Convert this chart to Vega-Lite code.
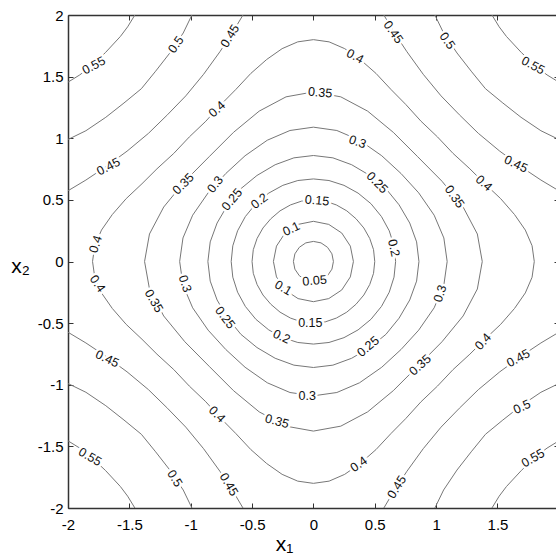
{
"$schema":"https://vega.github.io/schema/vega-lite/v6.json",
"width":488,"height":493,
"autosize":{"type":"none"},
"padding":{"left":68,"top":15,"right":0,"bottom":51},
"background":"white",
"config":{"view":{"stroke":null},"font":"Liberation Sans"},
"datasets":{
"lines":[
{"c":"L05","i":0,"x":0.163,"y":0},{"c":"L05","i":1,"x":0.151,"y":0.062},{"c":"L05","i":2,"x":0.115,"y":0.115},{"c":"L05","i":3,"x":0.062,"y":0.151},{"c":"L05","i":4,"x":0,"y":0.163},{"c":"L05","i":5,"x":-0.062,"y":0.151},{"c":"L05","i":6,"x":-0.115,"y":0.115},{"c":"L05","i":7,"x":-0.151,"y":0.062},{"c":"L05","i":8,"x":-0.163,"y":0},{"c":"L05","i":9,"x":-0.151,"y":-0.062},{"c":"L05","i":10,"x":-0.115,"y":-0.115},{"c":"L05","i":11,"x":-0.062,"y":-0.151},{"c":"L05","i":12,"x":0,"y":-0.163},{"c":"L05","i":13,"x":0.062,"y":-0.151},{"c":"L05","i":14,"x":0.115,"y":-0.115},{"c":"L05","i":15,"x":0.151,"y":-0.062},{"c":"L05","i":16,"x":0.163,"y":0},
{"c":"L10","i":0,"x":0.326,"y":0},{"c":"L10","i":1,"x":0.301,"y":0.125},{"c":"L10","i":2,"x":0.231,"y":0.231},{"c":"L10","i":3,"x":0.125,"y":0.301},{"c":"L10","i":4,"x":0,"y":0.326},{"c":"L10","i":5,"x":-0.125,"y":0.301},{"c":"L10","i":6,"x":-0.231,"y":0.231},{"c":"L10","i":7,"x":-0.301,"y":0.125},{"c":"L10","i":8,"x":-0.326,"y":0},{"c":"L10","i":9,"x":-0.301,"y":-0.125},{"c":"L10","i":10,"x":-0.231,"y":-0.231},{"c":"L10","i":11,"x":-0.125,"y":-0.301},{"c":"L10","i":12,"x":0,"y":-0.326},{"c":"L10","i":13,"x":0.125,"y":-0.301},{"c":"L10","i":14,"x":0.231,"y":-0.231},{"c":"L10","i":15,"x":0.301,"y":-0.125},{"c":"L10","i":16,"x":0.326,"y":0},
{"c":"L15","i":0,"x":0.5,"y":0},{"c":"L15","i":1,"x":0.49,"y":0.096},{"c":"L15","i":2,"x":0.459,"y":0.187},{"c":"L15","i":3,"x":0.411,"y":0.272},{"c":"L15","i":4,"x":0.347,"y":0.347},{"c":"L15","i":5,"x":0.272,"y":0.411},{"c":"L15","i":6,"x":0.187,"y":0.459},{"c":"L15","i":7,"x":0.096,"y":0.49},{"c":"L15","i":8,"x":0,"y":0.5},{"c":"L15","i":9,"x":-0.096,"y":0.49},{"c":"L15","i":10,"x":-0.187,"y":0.459},{"c":"L15","i":11,"x":-0.272,"y":0.411},{"c":"L15","i":12,"x":-0.347,"y":0.347},{"c":"L15","i":13,"x":-0.411,"y":0.272},{"c":"L15","i":14,"x":-0.459,"y":0.187},{"c":"L15","i":15,"x":-0.49,"y":0.096},{"c":"L15","i":16,"x":-0.5,"y":0},{"c":"L15","i":17,"x":-0.49,"y":-0.096},{"c":"L15","i":18,"x":-0.459,"y":-0.187},{"c":"L15","i":19,"x":-0.411,"y":-0.272},{"c":"L15","i":20,"x":-0.347,"y":-0.347},{"c":"L15","i":21,"x":-0.272,"y":-0.411},{"c":"L15","i":22,"x":-0.187,"y":-0.459},{"c":"L15","i":23,"x":-0.096,"y":-0.49},{"c":"L15","i":24,"x":0,"y":-0.5},{"c":"L15","i":25,"x":0.096,"y":-0.49},{"c":"L15","i":26,"x":0.187,"y":-0.459},{"c":"L15","i":27,"x":0.272,"y":-0.411},{"c":"L15","i":28,"x":0.347,"y":-0.347},{"c":"L15","i":29,"x":0.411,"y":-0.272},{"c":"L15","i":30,"x":0.459,"y":-0.187},{"c":"L15","i":31,"x":0.49,"y":-0.096},{"c":"L15","i":32,"x":0.5,"y":0},
{"c":"L20","i":0,"x":0.67,"y":0},{"c":"L20","i":1,"x":0.657,"y":0.127},{"c":"L20","i":2,"x":0.618,"y":0.249},{"c":"L20","i":3,"x":0.555,"y":0.364},{"c":"L20","i":4,"x":0.469,"y":0.469},{"c":"L20","i":5,"x":0.364,"y":0.555},{"c":"L20","i":6,"x":0.249,"y":0.618},{"c":"L20","i":7,"x":0.127,"y":0.657},{"c":"L20","i":8,"x":0,"y":0.67},{"c":"L20","i":9,"x":-0.127,"y":0.657},{"c":"L20","i":10,"x":-0.249,"y":0.618},{"c":"L20","i":11,"x":-0.364,"y":0.555},{"c":"L20","i":12,"x":-0.469,"y":0.469},{"c":"L20","i":13,"x":-0.555,"y":0.364},{"c":"L20","i":14,"x":-0.618,"y":0.249},{"c":"L20","i":15,"x":-0.657,"y":0.127},{"c":"L20","i":16,"x":-0.67,"y":0},{"c":"L20","i":17,"x":-0.657,"y":-0.127},{"c":"L20","i":18,"x":-0.618,"y":-0.249},{"c":"L20","i":19,"x":-0.555,"y":-0.364},{"c":"L20","i":20,"x":-0.469,"y":-0.469},{"c":"L20","i":21,"x":-0.364,"y":-0.555},{"c":"L20","i":22,"x":-0.249,"y":-0.618},{"c":"L20","i":23,"x":-0.127,"y":-0.657},{"c":"L20","i":24,"x":0,"y":-0.67},{"c":"L20","i":25,"x":0.127,"y":-0.657},{"c":"L20","i":26,"x":0.249,"y":-0.618},{"c":"L20","i":27,"x":0.364,"y":-0.555},{"c":"L20","i":28,"x":0.469,"y":-0.469},{"c":"L20","i":29,"x":0.555,"y":-0.364},{"c":"L20","i":30,"x":0.618,"y":-0.249},{"c":"L20","i":31,"x":0.657,"y":-0.127},{"c":"L20","i":32,"x":0.67,"y":0},
{"c":"L25","i":0,"x":0.86,"y":0},{"c":"L25","i":1,"x":0.841,"y":0.159},{"c":"L25","i":2,"x":0.785,"y":0.312},{"c":"L25","i":3,"x":0.698,"y":0.46},{"c":"L25","i":4,"x":0.591,"y":0.591},{"c":"L25","i":5,"x":0.46,"y":0.698},{"c":"L25","i":6,"x":0.312,"y":0.785},{"c":"L25","i":7,"x":0.159,"y":0.841},{"c":"L25","i":8,"x":0,"y":0.86},{"c":"L25","i":9,"x":-0.159,"y":0.841},{"c":"L25","i":10,"x":-0.312,"y":0.785},{"c":"L25","i":11,"x":-0.46,"y":0.698},{"c":"L25","i":12,"x":-0.591,"y":0.591},{"c":"L25","i":13,"x":-0.698,"y":0.46},{"c":"L25","i":14,"x":-0.785,"y":0.312},{"c":"L25","i":15,"x":-0.841,"y":0.159},{"c":"L25","i":16,"x":-0.86,"y":0},{"c":"L25","i":17,"x":-0.841,"y":-0.159},{"c":"L25","i":18,"x":-0.785,"y":-0.312},{"c":"L25","i":19,"x":-0.698,"y":-0.46},{"c":"L25","i":20,"x":-0.591,"y":-0.591},{"c":"L25","i":21,"x":-0.46,"y":-0.698},{"c":"L25","i":22,"x":-0.312,"y":-0.785},{"c":"L25","i":23,"x":-0.159,"y":-0.841},{"c":"L25","i":24,"x":0,"y":-0.86},{"c":"L25","i":25,"x":0.159,"y":-0.841},{"c":"L25","i":26,"x":0.312,"y":-0.785},{"c":"L25","i":27,"x":0.46,"y":-0.698},{"c":"L25","i":28,"x":0.591,"y":-0.591},{"c":"L25","i":29,"x":0.698,"y":-0.46},{"c":"L25","i":30,"x":0.785,"y":-0.312},{"c":"L25","i":31,"x":0.841,"y":-0.159},{"c":"L25","i":32,"x":0.86,"y":0},
{"c":"L30","i":0,"x":1.09,"y":0},{"c":"L30","i":1,"x":1.063,"y":0.191},{"c":"L30","i":2,"x":0.984,"y":0.376},{"c":"L30","i":3,"x":0.858,"y":0.557},{"c":"L30","i":4,"x":0.714,"y":0.714},{"c":"L30","i":5,"x":0.557,"y":0.858},{"c":"L30","i":6,"x":0.376,"y":0.984},{"c":"L30","i":7,"x":0.191,"y":1.063},{"c":"L30","i":8,"x":0,"y":1.09},{"c":"L30","i":9,"x":-0.191,"y":1.063},{"c":"L30","i":10,"x":-0.376,"y":0.984},{"c":"L30","i":11,"x":-0.557,"y":0.858},{"c":"L30","i":12,"x":-0.714,"y":0.714},{"c":"L30","i":13,"x":-0.858,"y":0.557},{"c":"L30","i":14,"x":-0.984,"y":0.376},{"c":"L30","i":15,"x":-1.063,"y":0.191},{"c":"L30","i":16,"x":-1.09,"y":0},{"c":"L30","i":17,"x":-1.063,"y":-0.191},{"c":"L30","i":18,"x":-0.984,"y":-0.376},{"c":"L30","i":19,"x":-0.858,"y":-0.557},{"c":"L30","i":20,"x":-0.714,"y":-0.714},{"c":"L30","i":21,"x":-0.557,"y":-0.858},{"c":"L30","i":22,"x":-0.376,"y":-0.984},{"c":"L30","i":23,"x":-0.191,"y":-1.063},{"c":"L30","i":24,"x":0,"y":-1.09},{"c":"L30","i":25,"x":0.191,"y":-1.063},{"c":"L30","i":26,"x":0.376,"y":-0.984},{"c":"L30","i":27,"x":0.557,"y":-0.858},{"c":"L30","i":28,"x":0.714,"y":-0.714},{"c":"L30","i":29,"x":0.858,"y":-0.557},{"c":"L30","i":30,"x":0.984,"y":-0.376},{"c":"L30","i":31,"x":1.063,"y":-0.191},{"c":"L30","i":32,"x":1.09,"y":0},
{"c":"L35","i":0,"x":1.376,"y":0},{"c":"L35","i":1,"x":1.336,"y":0.223},{"c":"L35","i":2,"x":1.22,"y":0.442},{"c":"L35","i":3,"x":1.048,"y":0.651},{"c":"L35","i":4,"x":0.85,"y":0.85},{"c":"L35","i":5,"x":0.651,"y":1.048},{"c":"L35","i":6,"x":0.442,"y":1.22},{"c":"L35","i":7,"x":0.223,"y":1.336},{"c":"L35","i":8,"x":0,"y":1.376},{"c":"L35","i":9,"x":-0.223,"y":1.336},{"c":"L35","i":10,"x":-0.442,"y":1.22},{"c":"L35","i":11,"x":-0.651,"y":1.048},{"c":"L35","i":12,"x":-0.85,"y":0.85},{"c":"L35","i":13,"x":-1.048,"y":0.651},{"c":"L35","i":14,"x":-1.22,"y":0.442},{"c":"L35","i":15,"x":-1.336,"y":0.223},{"c":"L35","i":16,"x":-1.376,"y":0},{"c":"L35","i":17,"x":-1.336,"y":-0.223},{"c":"L35","i":18,"x":-1.22,"y":-0.442},{"c":"L35","i":19,"x":-1.048,"y":-0.651},{"c":"L35","i":20,"x":-0.85,"y":-0.85},{"c":"L35","i":21,"x":-0.651,"y":-1.048},{"c":"L35","i":22,"x":-0.442,"y":-1.22},{"c":"L35","i":23,"x":-0.223,"y":-1.336},{"c":"L35","i":24,"x":0,"y":-1.376},{"c":"L35","i":25,"x":0.223,"y":-1.336},{"c":"L35","i":26,"x":0.442,"y":-1.22},{"c":"L35","i":27,"x":0.651,"y":-1.048},{"c":"L35","i":28,"x":0.85,"y":-0.85},{"c":"L35","i":29,"x":1.048,"y":-0.651},{"c":"L35","i":30,"x":1.22,"y":-0.442},{"c":"L35","i":31,"x":1.336,"y":-0.223},{"c":"L35","i":32,"x":1.376,"y":0},
{"c":"L40","i":0,"x":1.8,"y":0},{"c":"L40","i":1,"x":1.782,"y":0.128},{"c":"L40","i":2,"x":1.727,"y":0.255},{"c":"L40","i":3,"x":1.639,"y":0.381},{"c":"L40","i":4,"x":1.526,"y":0.51},{"c":"L40","i":5,"x":1.397,"y":0.631},{"c":"L40","i":6,"x":1.275,"y":0.752},{"c":"L40","i":7,"x":1.138,"y":0.877},{"c":"L40","i":8,"x":1.011,"y":1.011},
{"c":"L40","i":9,"x":0.877,"y":1.138},{"c":"L40","i":10,"x":0.752,"y":1.275},{"c":"L40","i":11,"x":0.631,"y":1.397},{"c":"L40","i":12,"x":0.51,"y":1.526},{"c":"L40","i":13,"x":0.381,"y":1.639},{"c":"L40","i":14,"x":0.255,"y":1.727},{"c":"L40","i":15,"x":0.128,"y":1.782},{"c":"L40","i":16,"x":0,"y":1.8},
{"c":"L40","i":17,"x":-0.128,"y":1.782},{"c":"L40","i":18,"x":-0.255,"y":1.727},{"c":"L40","i":19,"x":-0.381,"y":1.639},{"c":"L40","i":20,"x":-0.51,"y":1.526},{"c":"L40","i":21,"x":-0.631,"y":1.397},{"c":"L40","i":22,"x":-0.752,"y":1.275},{"c":"L40","i":23,"x":-0.877,"y":1.138},{"c":"L40","i":24,"x":-1.011,"y":1.011},
{"c":"L40","i":25,"x":-1.138,"y":0.877},{"c":"L40","i":26,"x":-1.275,"y":0.752},{"c":"L40","i":27,"x":-1.397,"y":0.631},{"c":"L40","i":28,"x":-1.526,"y":0.51},{"c":"L40","i":29,"x":-1.639,"y":0.381},{"c":"L40","i":30,"x":-1.727,"y":0.255},{"c":"L40","i":31,"x":-1.782,"y":0.128},{"c":"L40","i":32,"x":-1.8,"y":0},
{"c":"L40","i":33,"x":-1.782,"y":-0.128},{"c":"L40","i":34,"x":-1.727,"y":-0.255},{"c":"L40","i":35,"x":-1.639,"y":-0.381},{"c":"L40","i":36,"x":-1.526,"y":-0.51},{"c":"L40","i":37,"x":-1.397,"y":-0.631},{"c":"L40","i":38,"x":-1.275,"y":-0.752},{"c":"L40","i":39,"x":-1.138,"y":-0.877},{"c":"L40","i":40,"x":-1.011,"y":-1.011},
{"c":"L40","i":41,"x":-0.877,"y":-1.138},{"c":"L40","i":42,"x":-0.752,"y":-1.275},{"c":"L40","i":43,"x":-0.631,"y":-1.397},{"c":"L40","i":44,"x":-0.51,"y":-1.526},{"c":"L40","i":45,"x":-0.381,"y":-1.639},{"c":"L40","i":46,"x":-0.255,"y":-1.727},{"c":"L40","i":47,"x":-0.128,"y":-1.782},{"c":"L40","i":48,"x":0,"y":-1.8},
{"c":"L40","i":49,"x":0.128,"y":-1.782},{"c":"L40","i":50,"x":0.255,"y":-1.727},{"c":"L40","i":51,"x":0.381,"y":-1.639},{"c":"L40","i":52,"x":0.51,"y":-1.526},{"c":"L40","i":53,"x":0.631,"y":-1.397},{"c":"L40","i":54,"x":0.752,"y":-1.275},{"c":"L40","i":55,"x":0.877,"y":-1.138},{"c":"L40","i":56,"x":1.011,"y":-1.011},
{"c":"L40","i":57,"x":1.138,"y":-0.877},{"c":"L40","i":58,"x":1.275,"y":-0.752},{"c":"L40","i":59,"x":1.397,"y":-0.631},{"c":"L40","i":60,"x":1.526,"y":-0.51},{"c":"L40","i":61,"x":1.639,"y":-0.381},{"c":"L40","i":62,"x":1.727,"y":-0.255},{"c":"L40","i":63,"x":1.782,"y":-0.128},{"c":"L40","i":64,"x":1.8,"y":0},
{"c":"A45pp","i":0,"x":2,"y":0.574},{"c":"A45pp","i":1,"x":1.854,"y":0.661},{"c":"A45pp","i":2,"x":1.702,"y":0.762},{"c":"A45pp","i":3,"x":1.519,"y":0.895},{"c":"A45pp","i":4,"x":1.344,"y":1.04},{"c":"A45pp","i":5,"x":1.19,"y":1.19},{"c":"A45pp","i":6,"x":1.04,"y":1.344},{"c":"A45pp","i":7,"x":0.895,"y":1.519},{"c":"A45pp","i":8,"x":0.762,"y":1.702},{"c":"A45pp","i":9,"x":0.661,"y":1.854},{"c":"A45pp","i":10,"x":0.574,"y":2},
{"c":"A45np","i":0,"x":-2,"y":0.574},{"c":"A45np","i":1,"x":-1.854,"y":0.661},{"c":"A45np","i":2,"x":-1.702,"y":0.762},{"c":"A45np","i":3,"x":-1.519,"y":0.895},{"c":"A45np","i":4,"x":-1.344,"y":1.04},{"c":"A45np","i":5,"x":-1.19,"y":1.19},{"c":"A45np","i":6,"x":-1.04,"y":1.344},{"c":"A45np","i":7,"x":-0.895,"y":1.519},{"c":"A45np","i":8,"x":-0.762,"y":1.702},{"c":"A45np","i":9,"x":-0.661,"y":1.854},{"c":"A45np","i":10,"x":-0.574,"y":2},
{"c":"A45nn","i":0,"x":-2,"y":-0.574},{"c":"A45nn","i":1,"x":-1.854,"y":-0.661},{"c":"A45nn","i":2,"x":-1.702,"y":-0.762},{"c":"A45nn","i":3,"x":-1.519,"y":-0.895},{"c":"A45nn","i":4,"x":-1.344,"y":-1.04},{"c":"A45nn","i":5,"x":-1.19,"y":-1.19},{"c":"A45nn","i":6,"x":-1.04,"y":-1.344},{"c":"A45nn","i":7,"x":-0.895,"y":-1.519},{"c":"A45nn","i":8,"x":-0.762,"y":-1.702},{"c":"A45nn","i":9,"x":-0.661,"y":-1.854},{"c":"A45nn","i":10,"x":-0.574,"y":-2},
{"c":"A45pn","i":0,"x":2,"y":-0.574},{"c":"A45pn","i":1,"x":1.854,"y":-0.661},{"c":"A45pn","i":2,"x":1.702,"y":-0.762},{"c":"A45pn","i":3,"x":1.519,"y":-0.895},{"c":"A45pn","i":4,"x":1.344,"y":-1.04},{"c":"A45pn","i":5,"x":1.19,"y":-1.19},{"c":"A45pn","i":6,"x":1.04,"y":-1.344},{"c":"A45pn","i":7,"x":0.895,"y":-1.519},{"c":"A45pn","i":8,"x":0.762,"y":-1.702},{"c":"A45pn","i":9,"x":0.661,"y":-1.854},{"c":"A45pn","i":10,"x":0.574,"y":-2},
{"c":"A50pp","i":0,"x":2,"y":0.99},{"c":"A50pp","i":1,"x":1.854,"y":1.061},{"c":"A50pp","i":2,"x":1.692,"y":1.17},{"c":"A50pp","i":3,"x":1.544,"y":1.286},{"c":"A50pp","i":4,"x":1.402,"y":1.402},{"c":"A50pp","i":5,"x":1.286,"y":1.544},{"c":"A50pp","i":6,"x":1.17,"y":1.692},{"c":"A50pp","i":7,"x":1.061,"y":1.854},{"c":"A50pp","i":8,"x":0.99,"y":2},
{"c":"A50np","i":0,"x":-2,"y":0.99},{"c":"A50np","i":1,"x":-1.854,"y":1.061},{"c":"A50np","i":2,"x":-1.692,"y":1.17},{"c":"A50np","i":3,"x":-1.544,"y":1.286},{"c":"A50np","i":4,"x":-1.402,"y":1.402},{"c":"A50np","i":5,"x":-1.286,"y":1.544},{"c":"A50np","i":6,"x":-1.17,"y":1.692},{"c":"A50np","i":7,"x":-1.061,"y":1.854},{"c":"A50np","i":8,"x":-0.99,"y":2},
{"c":"A50nn","i":0,"x":-2,"y":-0.99},{"c":"A50nn","i":1,"x":-1.854,"y":-1.061},{"c":"A50nn","i":2,"x":-1.692,"y":-1.17},{"c":"A50nn","i":3,"x":-1.544,"y":-1.286},{"c":"A50nn","i":4,"x":-1.402,"y":-1.402},{"c":"A50nn","i":5,"x":-1.286,"y":-1.544},{"c":"A50nn","i":6,"x":-1.17,"y":-1.692},{"c":"A50nn","i":7,"x":-1.061,"y":-1.854},{"c":"A50nn","i":8,"x":-0.99,"y":-2},
{"c":"A50pn","i":0,"x":2,"y":-0.99},{"c":"A50pn","i":1,"x":1.854,"y":-1.061},{"c":"A50pn","i":2,"x":1.692,"y":-1.17},{"c":"A50pn","i":3,"x":1.544,"y":-1.286},{"c":"A50pn","i":4,"x":1.402,"y":-1.402},{"c":"A50pn","i":5,"x":1.286,"y":-1.544},{"c":"A50pn","i":6,"x":1.17,"y":-1.692},{"c":"A50pn","i":7,"x":1.061,"y":-1.854},{"c":"A50pn","i":8,"x":0.99,"y":-2},
{"c":"A55pp","i":0,"x":2,"y":1.455},{"c":"A55pp","i":1,"x":1.904,"y":1.514},{"c":"A55pp","i":2,"x":1.826,"y":1.573},{"c":"A55pp","i":3,"x":1.695,"y":1.695},{"c":"A55pp","i":4,"x":1.573,"y":1.826},{"c":"A55pp","i":5,"x":1.514,"y":1.904},{"c":"A55pp","i":6,"x":1.455,"y":2},
{"c":"A55np","i":0,"x":-2,"y":1.455},{"c":"A55np","i":1,"x":-1.904,"y":1.514},{"c":"A55np","i":2,"x":-1.826,"y":1.573},{"c":"A55np","i":3,"x":-1.695,"y":1.695},{"c":"A55np","i":4,"x":-1.573,"y":1.826},{"c":"A55np","i":5,"x":-1.514,"y":1.904},{"c":"A55np","i":6,"x":-1.455,"y":2},
{"c":"A55nn","i":0,"x":-2,"y":-1.455},{"c":"A55nn","i":1,"x":-1.904,"y":-1.514},{"c":"A55nn","i":2,"x":-1.826,"y":-1.573},{"c":"A55nn","i":3,"x":-1.695,"y":-1.695},{"c":"A55nn","i":4,"x":-1.573,"y":-1.826},{"c":"A55nn","i":5,"x":-1.514,"y":-1.904},{"c":"A55nn","i":6,"x":-1.455,"y":-2},
{"c":"A55pn","i":0,"x":2,"y":-1.455},{"c":"A55pn","i":1,"x":1.904,"y":-1.514},{"c":"A55pn","i":2,"x":1.826,"y":-1.573},{"c":"A55pn","i":3,"x":1.695,"y":-1.695},{"c":"A55pn","i":4,"x":1.573,"y":-1.826},{"c":"A55pn","i":5,"x":1.514,"y":-1.904},{"c":"A55pn","i":6,"x":1.455,"y":-2}
],
"labels":[
{"t":"0.55","x":-1.79,"y":1.59,"a":-28},
{"t":"0.5","x":-1.12,"y":1.76,"a":-55},
{"t":"0.45","x":-0.68,"y":1.83,"a":-58},
{"t":"0.45","x":-1.67,"y":0.77,"a":-28},
{"t":"0.4","x":-0.785,"y":1.235,"a":-42},
{"t":"0.35","x":-1.06,"y":0.63,"a":-45},
{"t":"0.3","x":-0.8,"y":0.625,"a":-52},
{"t":"0.25","x":-0.663,"y":0.503,"a":-50},
{"t":"0.2","x":-0.44,"y":0.49,"a":-38},
{"t":"0.15","x":0.03,"y":0.495,"a":5},
{"t":"0.1","x":-0.18,"y":0.265,"a":-25},
{"t":"0.05","x":0.01,"y":-0.155,"a":-5},
{"t":"0.1","x":-0.245,"y":-0.215,"a":30},
{"t":"0.15","x":-0.025,"y":-0.5,"a":0},
{"t":"0.2","x":-0.26,"y":-0.61,"a":25},
{"t":"0.25","x":-0.72,"y":-0.455,"a":52},
{"t":"0.25","x":0.446,"y":-0.69,"a":-40},
{"t":"0.3","x":-1.046,"y":-0.18,"a":72},
{"t":"0.35","x":-1.3,"y":-0.32,"a":60},
{"t":"0.4","x":-1.775,"y":0.14,"a":-72},
{"t":"0.4","x":-1.76,"y":-0.18,"a":55},
{"t":"0.45","x":-1.68,"y":-0.79,"a":25},
{"t":"0.55","x":-1.82,"y":-1.585,"a":30},
{"t":"0.5","x":-1.13,"y":-1.76,"a":58},
{"t":"0.45","x":-0.69,"y":-1.81,"a":60},
{"t":"0.4","x":-0.785,"y":-1.24,"a":45},
{"t":"0.35","x":-0.296,"y":-1.297,"a":15},
{"t":"0.3","x":-0.05,"y":-1.09,"a":0},
{"t":"0.4","x":0.37,"y":-1.645,"a":-35},
{"t":"0.45","x":0.68,"y":-1.83,"a":-58},
{"t":"0.5","x":1.7,"y":-1.18,"a":-25},
{"t":"0.55","x":1.79,"y":-1.595,"a":-30},
{"t":"0.35","x":0.87,"y":-0.84,"a":-42},
{"t":"0.4","x":1.383,"y":-0.65,"a":-48},
{"t":"0.45","x":1.67,"y":-0.785,"a":-28},
{"t":"0.3","x":1.033,"y":-0.26,"a":-72},
{"t":"0.2","x":0.655,"y":0.11,"a":78},
{"t":"0.35","x":1.15,"y":0.525,"a":55},
{"t":"0.4","x":1.39,"y":0.635,"a":42},
{"t":"0.25","x":0.52,"y":0.64,"a":45},
{"t":"0.45","x":1.65,"y":0.79,"a":25},
{"t":"0.3","x":0.36,"y":0.97,"a":20},
{"t":"0.35","x":0.055,"y":1.37,"a":5},
{"t":"0.4","x":0.34,"y":1.665,"a":28},
{"t":"0.45","x":0.65,"y":1.86,"a":55},
{"t":"0.5","x":1.09,"y":1.79,"a":55},
{"t":"0.55","x":1.79,"y":1.59,"a":28}
]
},
"layer":[
{"data":{"name":"lines"},
 "mark":{"type":"line","clip":true,"color":"#777777","strokeWidth":1},
 "encoding":{
  "x":{"field":"x","type":"quantitative","scale":{"domain":[-2,1.977],"nice":false,"zero":false},
   "axis":{"orient":"bottom","values":[-2,-1.5,-1,-0.5,0,0.5,1,1.5],"labelExpr":"'' + datum.value","tickSize":-5,"labelPadding":14,"labelFontSize":15,"labelFont":"Liberation Sans","labelColor":"black","labelFlush":false,"labelOverlap":false,"domainColor":"#333333","domainWidth":1.5,"tickColor":"#333333","tickWidth":1,"grid":false,"title":"x₁","titleFont":"Liberation Sans","titleFontSize":21,"titleFontWeight":"normal","titleColor":"black","titleX":216,"titleY":42,"titleAlign":"center","titleBaseline":"alphabetic"}},
  "y":{"field":"y","type":"quantitative","scale":{"domain":[-2,2],"nice":false,"zero":false},
   "axis":{"orient":"left","values":[-2,-1.5,-1,-0.5,0,0.5,1,1.5,2],"labelExpr":"'' + datum.value","tickSize":-5,"labelPadding":10,"labelFontSize":15,"labelFont":"Liberation Sans","labelColor":"black","labelFlush":false,"labelOverlap":false,"domainColor":"#333333","domainWidth":1.5,"tickColor":"#333333","tickWidth":1,"grid":false,"title":"x₂","titleFont":"Liberation Sans","titleFontSize":21,"titleFontWeight":"normal","titleColor":"black","titleAngle":0,"titleX":-48,"titleY":257,"titleAlign":"center","titleBaseline":"alphabetic"}},
  "detail":{"field":"c","type":"nominal"},
  "order":{"field":"i","type":"quantitative"}
 }},
{"data":{"name":"labels"},
 "mark":{"type":"text","font":"Liberation Sans","fontSize":12.5,"fill":"white","stroke":"white","strokeWidth":5,"align":"center","baseline":"middle"},
 "encoding":{
  "x":{"field":"x","type":"quantitative","axis":{"orient":"top","values":[-2,-1.5,-1,-0.5,0,0.5,1,1.5],"labels":false,"tickSize":-5,"domainColor":"#333333","domainWidth":1.5,"tickColor":"#333333","tickWidth":1,"grid":false,"title":null}},
  "y":{"field":"y","type":"quantitative","axis":{"orient":"right","offset":3,"values":[-2,-1.5,-1,-0.5,0,0.5,1,1.5,2],"labels":false,"domain":false,"tickSize":-5,"tickColor":"#333333","tickWidth":1,"grid":false,"title":null}},
  "text":{"field":"t","type":"nominal"},
  "angle":{"field":"a","type":"quantitative","scale":null}
 }},
{"data":{"name":"labels"},
 "mark":{"type":"text","font":"Liberation Sans","fontSize":12.5,"fill":"#111111","align":"center","baseline":"middle"},
 "encoding":{
  "x":{"field":"x","type":"quantitative","axis":null},
  "y":{"field":"y","type":"quantitative","axis":null},
  "text":{"field":"t","type":"nominal"},
  "angle":{"field":"a","type":"quantitative","scale":null}
 }}
],
"resolve":{"axis":{"x":"independent","y":"independent"}}
}
